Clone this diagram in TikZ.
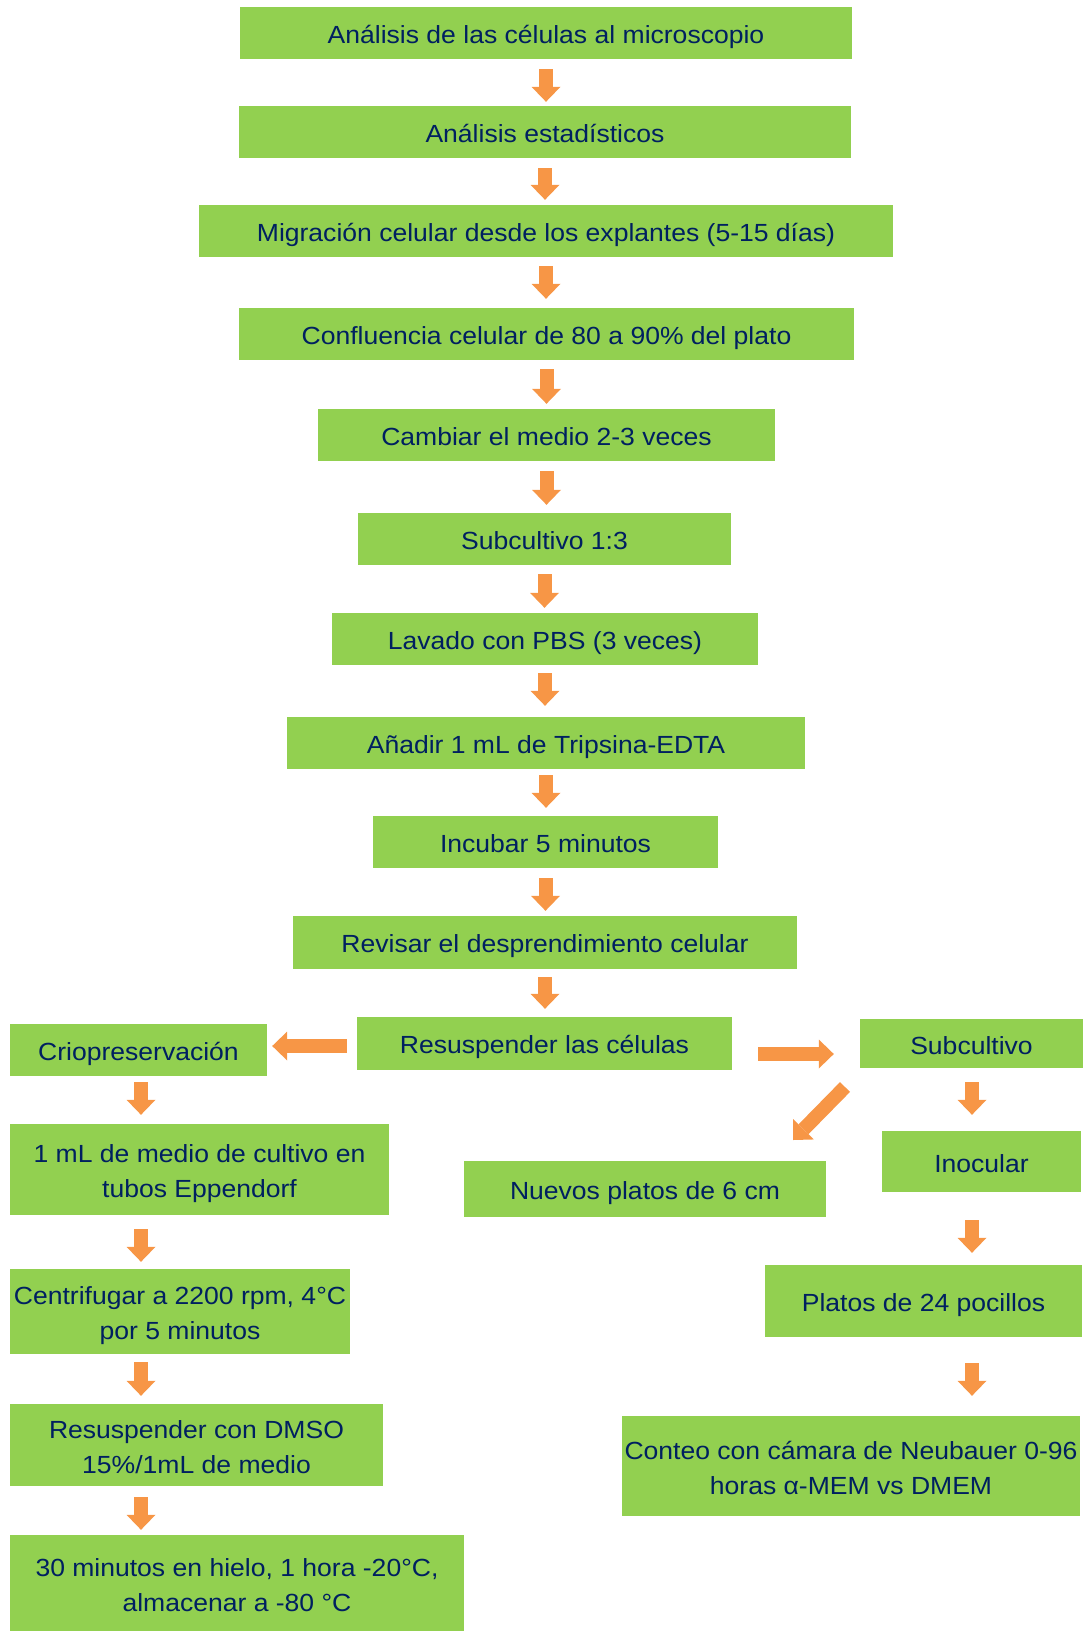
\documentclass[tikz,border=0pt]{standalone}
\usepackage{fontspec}
\setmainfont{Liberation Sans}[FakeStretch=1.07]
\usepackage{xcolor}
\usepackage{tikz}
\usetikzlibrary{arrows.meta}
\definecolor{boxgreen}{RGB}{146, 208, 80}
\definecolor{arroworange}{RGB}{247, 150, 70}
\definecolor{textnavy}{RGB}{0, 32, 96}
\newcommand{\boxstrut}{\rule[-5pt]{0pt}{31pt}}

\begin{document}
\begin{tikzpicture}[x=1pt, y=-1pt,
  stepbox/.style={fill=boxgreen, text=textnavy, inner sep=0pt, align=center,
    font=\fontsize{24.8}{35}\selectfont,
    execute at begin node=\boxstrut, execute at end node=\boxstrut},
  twoline/.style={text height=61pt, text depth=5pt},
  flow/.style={arroworange, line width=14pt,
    -{Triangle[length=15pt, width=29pt, line width=0pt]}}]
\useasboundingbox (0,0) rectangle (1083,1631);
% main column
\node[stepbox, minimum width=612pt, minimum height=52pt] (micro) at (546,33) {Análisis de las células al microscopio};
\node[stepbox, minimum width=612pt, minimum height=52pt] (stats) at (545,132) {Análisis estadísticos};
\node[stepbox, minimum width=694pt, minimum height=52pt] (migra) at (546,231) {Migración celular desde los explantes (5-15 días)};
\node[stepbox, minimum width=615pt, minimum height=52pt] (confl) at (546.5,334) {Confluencia celular de 80 a 90\% del plato};
\node[stepbox, minimum width=457pt, minimum height=52pt] (medio) at (546.5,435) {Cambiar el medio 2-3 veces};
\node[stepbox, minimum width=373pt, minimum height=52pt] (subtres) at (544.5,539) {Subcultivo 1:3};
\node[stepbox, minimum width=426pt, minimum height=52pt] (lavado) at (545,639) {Lavado con PBS (3 veces)};
\node[stepbox, minimum width=518pt, minimum height=52pt] (tryp) at (546,743) {Añadir 1 mL de Tripsina-EDTA};
\node[stepbox, minimum width=345pt, minimum height=52pt] (incub) at (545.5,842) {Incubar 5 minutos};
\node[stepbox, minimum width=504pt, minimum height=53pt] (revisar) at (545,942.5) {Revisar el desprendimiento celular};
\node[stepbox, minimum width=375pt, minimum height=53pt] (resus) at (544.5,1043.5) {Resuspender las células};
% left column
\node[stepbox, minimum width=257pt, minimum height=52pt] (crio) at (138.5,1050) {Criopreservación};
\node[stepbox, twoline, minimum width=379pt, minimum height=91pt] (epp) at (199.5,1169.5) {1 mL de medio de cultivo en\\tubos Eppendorf};
\node[stepbox, twoline, minimum width=340pt, minimum height=85pt] (centri) at (180,1311.5) {Centrifugar a 2200 rpm, 4°C\\por 5 minutos};
\node[stepbox, twoline, minimum width=373pt, minimum height=82pt] (dmso) at (196.5,1445) {Resuspender con DMSO\\15\%/1mL de medio};
\node[stepbox, twoline, minimum width=454pt, minimum height=96pt] (hielo) at (237,1583) {30 minutos en hielo, 1 hora -20°C,\\almacenar a -80 °C};
% right column
\node[stepbox, minimum width=223pt, minimum height=49pt] (sub) at (971.5,1043.5) {Subcultivo};
\node[stepbox, minimum width=362pt, minimum height=56pt] (nuevos) at (645,1189) {Nuevos platos de 6 cm};
\node[stepbox, minimum width=199pt, minimum height=61pt] (inoc) at (981.5,1161.5) {Inocular};
\node[stepbox, minimum width=317pt, minimum height=72pt] (platos) at (923.5,1301) {Platos de 24 pocillos};
\node[stepbox, twoline, minimum width=458pt, minimum height=100pt] (conteo) at (851,1466) {Conteo con cámara de Neubauer 0-96\\horas α-MEM vs DMEM};
% helper coordinates
\coordinate (lcol) at (141,0);
\coordinate (rcol) at (972,0);
\coordinate (lrow) at (0,1046);
\coordinate (rrow) at (0,1054);
\coordinate (diagtail) at (845,1087);
\coordinate (diagtip) at (793,1140);
% arrows
\draw[flow, shorten <=10pt, shorten >=4pt] (micro.south) -- (micro.south |- stats.north);
\draw[flow, shorten <=10pt, shorten >=5pt] (stats.south) -- (stats.south |- migra.north);
\draw[flow, shorten <=9pt, shorten >=9pt] (migra.south) -- (migra.south |- confl.north);
\draw[flow, shorten <=9pt, shorten >=5pt] (confl.south) -- (confl.south |- medio.north);
\draw[flow, shorten <=10pt, shorten >=8pt] (medio.south) -- (medio.south |- subtres.north);
\draw[flow, shorten <=9pt, shorten >=5pt] (subtres.south) -- (subtres.south |- lavado.north);
\draw[flow, shorten <=8pt, shorten >=11pt] (lavado.south) -- (lavado.south |- tryp.north);
\draw[flow, shorten <=6pt, shorten >=8pt] (tryp.south) -- (tryp.south |- incub.north);
\draw[flow, shorten <=10pt, shorten >=5pt] (incub.south) -- (incub.south |- revisar.north);
\draw[flow, shorten <=8pt, shorten >=8pt] (revisar.south) -- (revisar.south |- resus.north);
\draw[flow, shorten <=10pt, shorten >=5pt] (resus.west |- lrow) -- (crio.east |- lrow);
\draw[flow, shorten <=26pt, shorten >=26pt] (resus.east |- rrow) -- (sub.west |- rrow);
\draw[flow] (diagtail) -- (diagtip);
\draw[flow, shorten <=6pt, shorten >=9pt] (crio.south -| lcol) -- (epp.north -| lcol);
\draw[flow, shorten <=14pt, shorten >=7pt] (epp.south -| lcol) -- (centri.north -| lcol);
\draw[flow, shorten <=8pt, shorten >=8pt] (centri.south -| lcol) -- (dmso.north -| lcol);
\draw[flow, shorten <=11pt, shorten >=5pt] (dmso.south -| lcol) -- (hielo.north -| lcol);
\draw[flow, shorten <=14pt, shorten >=16pt] (sub.south -| rcol) -- (inoc.north -| rcol);
\draw[flow, shorten <=28pt, shorten >=12pt] (inoc.south -| rcol) -- (platos.north -| rcol);
\draw[flow, shorten <=26pt, shorten >=20pt] (platos.south -| rcol) -- (conteo.north -| rcol);
\end{tikzpicture}
\end{document}
